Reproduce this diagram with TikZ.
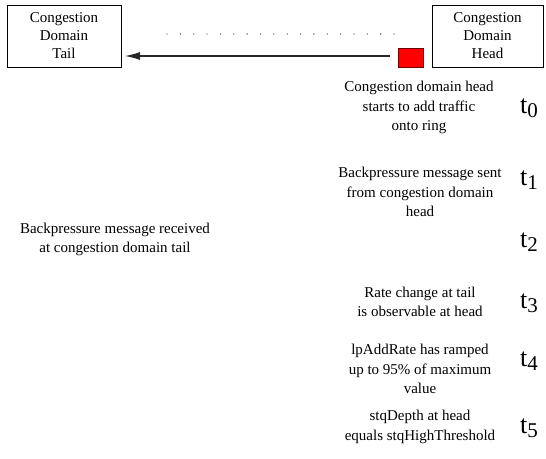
\documentclass[tikz,border=0pt]{standalone}
\usepackage{fontspec}
\setmainfont{Liberation Serif}
\newfontfamily\timesfont{Liberation Serif}
\usetikzlibrary{arrows.meta}
\definecolor{sqred}{RGB}{255,0,0}
\definecolor{sqborder}{RGB}{110,0,0}
\newcommand{\tlab}[1]{{\timesfont\fontsize{26}{26}\selectfont t\raisebox{-4.5pt}{\fontsize{21}{21}\selectfont #1}}}
\tikzset{
  box/.style={draw, line width=0.8pt, inner sep=0pt, align=center,
    font=\timesfont\fontsize{15}{18}\selectfont},
  lbl/.style={align=center, inner sep=0pt, font=\timesfont\fontsize{15}{19.5}\selectfont},
  tlbl/.style={anchor=base west, inner sep=0pt},
  dotmark/.style={fill=black!80, inner sep=0pt, minimum size=1.3pt, circle},
  msg/.style={line width=1.1pt, draw=black!85, -{Latex[length=15pt,width=8pt]}}
}
\begin{document}
\begin{tikzpicture}[x=1pt,y=-1pt]
\useasboundingbox (0,0) rectangle (546,458);
% shadows
\fill[black!35] (8.3,6.3) rectangle (122.3,68.3);
\fill[black!35] (433.3,6.3) rectangle (544.3,68.3);
\fill[black!35] (399.2,49.2) rectangle (424.2,68.2);
% boxes
\node[box, fill=white, minimum width=114pt, minimum height=62pt] (tail) at (64,36) {Congestion\\Domain\\Tail};
\node[box, fill=white, minimum width=111pt, minimum height=62pt] (head) at (487.5,36) {Congestion\\Domain\\Head};
\node[draw=sqborder, fill=sqred, line width=0.9pt, minimum width=25pt, minimum height=19pt, inner sep=0pt] (pkt) at (410.5,57.5) {};
% dotted line
\foreach \i in {0,...,17} {
  \node[dotmark] (d\i) at (167+\i*13.35,34) {};
}
% arrow
\coordinate (as) at (390,56);
\coordinate (ae) at (125,56);
\draw[msg] (as) -- (ae);
% texts
\node[lbl] (b0) at (419,107.5) {Congestion domain head\\starts to add traffic\\onto ring};
\node[lbl] (b1) at (420,192) {Backpressure message sent\\from congestion domain\\head};
\node[lbl] (bl) at (115,239.5) {Backpressure message received\\at congestion domain tail};
\node[lbl] (b3) at (420,302) {Rate change at tail\\is observable at head};
\node[lbl] (b4) at (420,369) {lpAddRate has ramped\\up to 95\% of maximum\\value};
\node[lbl] (b5) at (420,427) {stqDepth at head\\equals stqHighThreshold};
% time labels
\node[tlbl] (t0) at (520,113) {\tlab{0}};
\node[tlbl] (t1) at (520,185) {\tlab{1}};
\node[tlbl] (t2) at (520,247) {\tlab{2}};
\node[tlbl] (t3) at (520,308) {\tlab{3}};
\node[tlbl] (t4) at (520,366) {\tlab{4}};
\node[tlbl] (t5) at (520,433) {\tlab{5}};
\end{tikzpicture}
\end{document}
